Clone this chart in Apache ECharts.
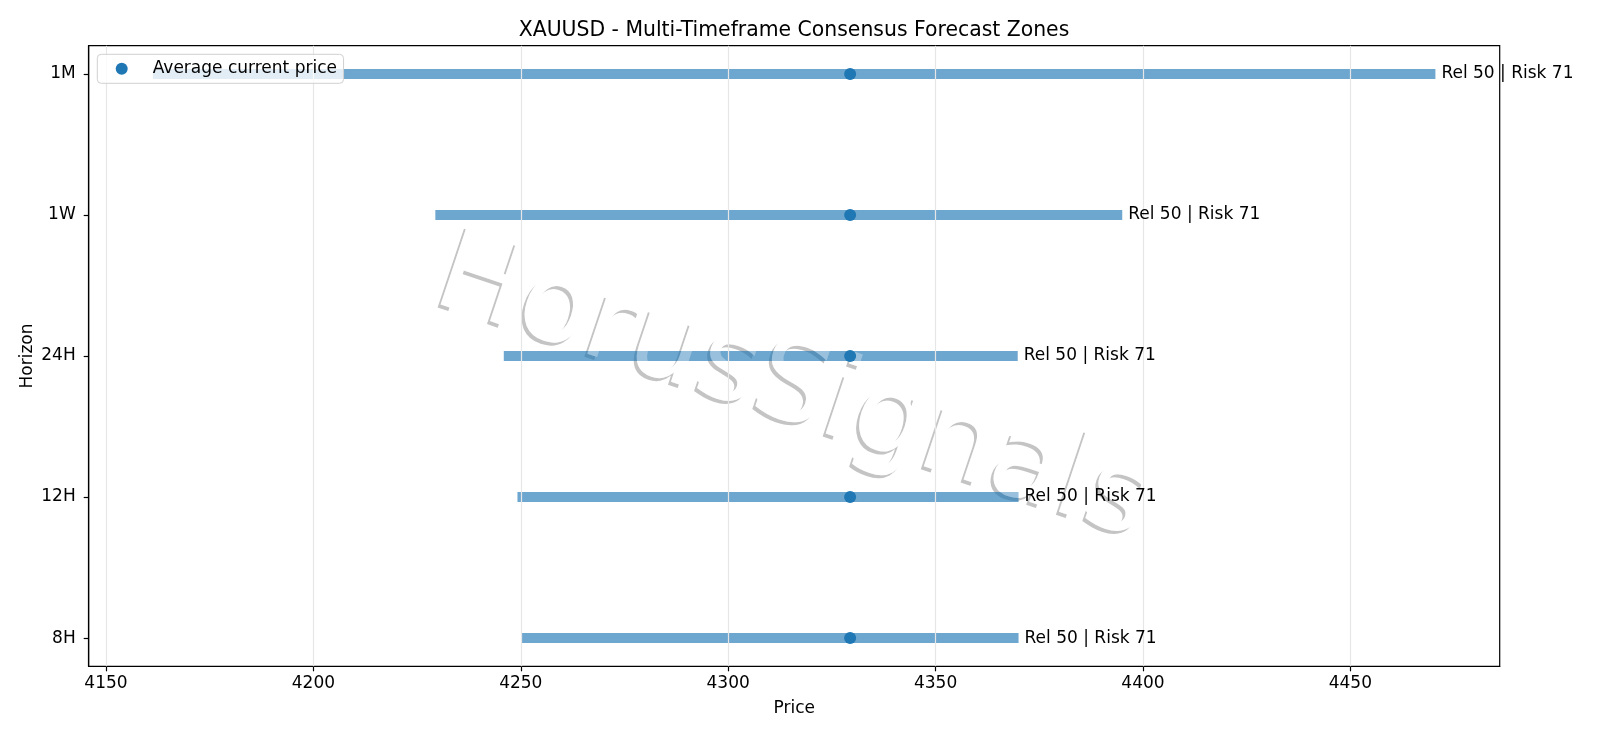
<!DOCTYPE html>
<html>
<head>
<meta charset="utf-8">
<title>XAUUSD - Multi-Timeframe Consensus Forecast Zones</title>
<script src="https://cdn.jsdelivr.net/npm/echarts@6/dist/echarts.min.js"></script>
<style>
  html, body { margin: 0; padding: 0; background: #fff; }
  #chart { width: 1600px; height: 738px; }
</style>
</head>
<body>
<div id="chart"></div>
<script>
// forecast zones per horizon (bottom to top)
var horizons = ['8H', '12H', '24H', '1W', '1M'];
var zoneLow = [4250.3, 4249.2, 4245.9, 4229.4, 4161.3];
var zoneHigh = [4370.0, 4370.0, 4369.8, 4395.0, 4470.5];
var currentPrice = [4329.4, 4329.4, 4329.4, 4329.4, 4329.4];
var reliability = [50, 50, 50, 50, 50];
var risk = [71, 71, 71, 71, 71];
var priceTicks = [4150, 4200, 4250, 4300, 4350, 4400, 4450];
var horizonTicks = [0, 1, 2, 3, 4];

var FONT = 'DejaVu Sans';
var BAR_COLOR = 'rgba(31,119,180,0.65)';

function getOption() {
  var zones = [];
  var dots = [];
  for (var i = 0; i < horizons.length; i++) {
    zones.push([zoneLow[i], zoneHigh[i], i, reliability[i], risk[i]]);
    dots.push([currentPrice[i], i]);
  }

  // watermark text, drawn in layers around the bars
  var wm = {
    x: 792,
    y: 391,
    rotation: -18.5 * Math.PI / 180,
    text: 'HorusSignals',
    font: '114px "DejaVu Sans"'
  };

  var option = {
    backgroundColor: '#fff',
    animation: false,
    title: {
      text: 'XAUUSD - Multi-Timeframe Consensus Forecast Zones',
      left: 794,
      top: 21,
      padding: 0,
      textAlign: 'center',
      textStyle: {
        color: '#000',
        fontFamily: FONT,
        fontWeight: 'normal',
        fontSize: 20.4
      }
    },
    legend: {
      data: ['Average current price'],
      left: 97.3,
      top: 54.3,
      z: 10,
      orient: 'vertical',
      padding: [4.5, 6.6, 4.5, 18.4],
      backgroundColor: 'rgba(255,255,255,0.8)',
      borderColor: '#d0d0d0',
      borderWidth: 1,
      borderRadius: 4,
      icon: 'circle',
      itemWidth: 12,
      itemHeight: 12,
      formatter: '{t|{name}}',
      textStyle: {
        color: '#000',
        fontFamily: FONT,
        fontSize: 17,
        lineHeight: 20,
        rich: {
          t: {
            color: '#000',
            fontFamily: FONT,
            fontSize: 17,
            lineHeight: 20,
            padding: [0, 0, 0, 20]
          }
        }
      }
    },
    grid: {
      left: 88.7,
      right: 100.3,
      top: 45.7,
      bottom: 71.7,
      show: true,
      borderColor: '#000',
      borderWidth: 1.2,
      backgroundColor: 'transparent'
    },
    xAxis: {
      type: 'value',
      min: 4145.83,
      max: 4486.0,
      name: 'Price',
      nameLocation: 'middle',
      nameGap: 34,
      nameMoveOverlap: false,
      nameTextStyle: { color: '#000', fontFamily: FONT, fontSize: 17 },
      axisLine: { show: true, onZero: false, lineStyle: { color: '#000', width: 1.2 } },
      axisTick: {
        show: true,
        inside: false,
        length: 5,
        customValues: priceTicks,
        lineStyle: { color: '#000', width: 1.2 }
      },
      axisLabel: {
        color: '#000',
        fontFamily: FONT,
        fontSize: 17,
        margin: 9,
        customValues: priceTicks,
        formatter: function (v) {
          return String(v);
        }
      },
      splitLine: { show: false }
    },
    yAxis: {
      type: 'value',
      min: -0.2,
      max: 4.2,
      name: 'Horizon',
      nameLocation: 'middle',
      nameGap: 53,
      nameMoveOverlap: false,
      nameTextStyle: { color: '#000', fontFamily: FONT, fontSize: 17 },
      axisLine: { show: true, onZero: false, lineStyle: { color: '#000', width: 1.2 } },
      axisTick: {
        show: true,
        inside: false,
        length: 5,
        customValues: horizonTicks,
        lineStyle: { color: '#000', width: 1.2 }
      },
      axisLabel: {
        color: '#000',
        fontFamily: FONT,
        fontSize: 17,
        margin: 13,
        customValues: horizonTicks,
        formatter: function (v) {
          return horizons[Math.round(v)];
        }
      },
      splitLine: { show: false }
    },
    graphic: [
      {
        type: 'text',
        z: 0,
        silent: true,
        x: wm.x - 3,
        y: wm.y + 3,
        rotation: wm.rotation,
        style: {
          text: wm.text,
          font: wm.font,
          fill: '#c4c4c4',
          align: 'center',
          verticalAlign: 'middle'
        }
      },
      {
        type: 'text',
        z: 0,
        silent: true,
        x: wm.x,
        y: wm.y,
        rotation: wm.rotation,
        style: {
          text: wm.text,
          font: wm.font,
          fill: '#ffffff',
          align: 'center',
          verticalAlign: 'middle'
        }
      },
      {
        type: 'text',
        z: 3,
        silent: true,
        x: wm.x,
        y: wm.y,
        rotation: wm.rotation,
        style: {
          text: wm.text,
          font: wm.font,
          fill: 'rgba(255,255,255,0.3)',
          align: 'center',
          verticalAlign: 'middle'
        }
      }
    ],
    series: [
      {
        // vertical grid lines at the price ticks
        type: 'line',
        data: [],
        z: 1,
        silent: true,
        markLine: {
          silent: true,
          symbol: ['none', 'none'],
          label: { show: false },
          lineStyle: { color: '#e6e6e6', width: 1.2, type: 'solid' },
          data: priceTicks.map(function (v) { return { xAxis: v }; })
        }
      },
      {
        name: 'Zone',
        type: 'custom',
        z: 2,
        clip: false,
        silent: true,
        encode: { x: [0, 1], y: 2 },
        data: zones,
        renderItem: function (params, api) {
          var start = api.coord([api.value(0), api.value(2)]);
          var end = api.coord([api.value(1), api.value(2)]);
          return {
            type: 'line',
            shape: { x1: start[0], y1: start[1], x2: end[0], y2: end[1] },
            style: { stroke: BAR_COLOR, lineWidth: 10, lineCap: 'butt' }
          };
        }
      },
      {
        name: 'Average current price',
        type: 'scatter',
        z: 4,
        silent: true,
        symbol: 'circle',
        symbolSize: 12,
        itemStyle: { color: '#1f77b4', opacity: 1 },
        data: dots
      },
      {
        name: 'Labels',
        type: 'custom',
        z: 5,
        clip: false,
        silent: true,
        encode: { x: 0, y: 1 },
        data: zones.map(function (d) { return [d[1], d[2], d[3], d[4]]; }),
        renderItem: function (params, api) {
          var end = api.coord([api.value(0), api.value(1)]);
          return {
            type: 'text',
            x: end[0] + 6,
            y: end[1],
            style: {
              text: 'Rel ' + api.value(2) + ' | Risk ' + api.value(3),
              fill: '#000',
              fontFamily: FONT,
              fontSize: 17,
              align: 'left',
              verticalAlign: 'middle'
            }
          };
        }
      }
    ]
  };
  return option;
}

var chart = echarts.init(document.getElementById('chart'), null, { renderer: 'canvas' });
chart.setOption(getOption());
</script>
</body>
</html>
